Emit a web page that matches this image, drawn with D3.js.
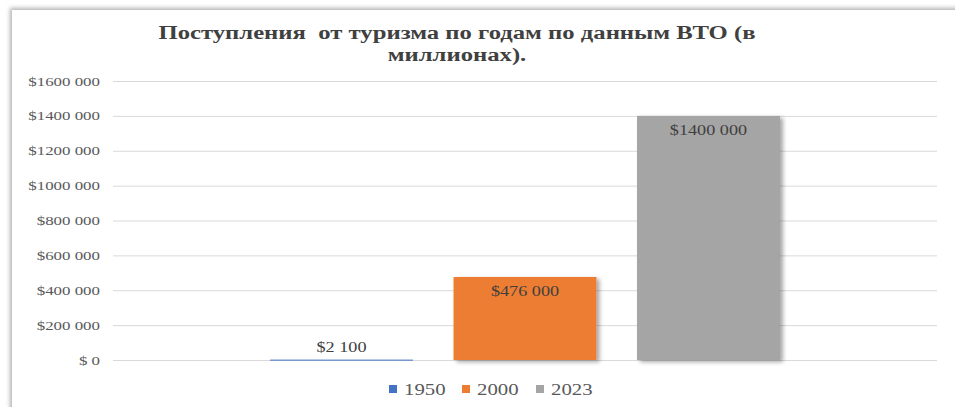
<!DOCTYPE html>
<html>
<head>
<meta charset="utf-8">
<script src="https://cdn.jsdelivr.net/npm/d3@7"></script>
<style>
  body { margin: 0; background: #fff; }
  text { font-family: "Liberation Serif", "Times New Roman", serif; }
</style>
</head>
<body>
<div id="chart"></div>
<script>
// data
var years = ["1950", "2000", "2023"];
var receipts = [2100, 476000, 1400000];
var valueLabels = ["$2 100", "$476 000", "$1400 000"];
var colors = ["#4472C4", "#ED7D31", "#A5A5A5"];
var tickValues = [0, 200000, 400000, 600000, 800000, 1000000, 1200000, 1400000, 1600000];
var tickLabels = ["$ 0", "$200 000", "$400 000", "$600 000", "$800 000", "$1000 000", "$1200 000", "$1400 000", "$1600 000"];
var titleLines = ["Поступления  от туризма по годам по данным ВТО (в", "миллионах)."];

var svgWidth = 955, svgHeight = 407;
var margin = { top: 81, right: 18, bottom: 47, left: 113 };
var width = svgWidth - margin.left - margin.right;
var height = svgHeight - margin.top - margin.bottom;
var sx = 1.3; // text in the picture is stretched wide

var svg = d3.select("#chart").append("svg")
    .attr("width", svgWidth)
    .attr("height", svgHeight);

var defs = svg.append("defs");
defs.append("filter").attr("id", "cardShadow")
    .attr("x", "-5%").attr("y", "-5%").attr("width", "110%").attr("height", "110%")
    .append("feDropShadow")
    .attr("dx", -2).attr("dy", -2).attr("stdDeviation", 2)
    .attr("flood-color", "#000").attr("flood-opacity", 0.3);
defs.append("filter").attr("id", "barShadow")
    .attr("x", "-10%").attr("y", "-10%").attr("width", "130%").attr("height", "130%")
    .append("feDropShadow")
    .attr("dx", 3).attr("dy", 2).attr("stdDeviation", 2)
    .attr("flood-color", "#000").attr("flood-opacity", 0.35);

// card
svg.append("rect")
    .attr("x", 12).attr("y", 10)
    .attr("width", 960).attr("height", 420)
    .attr("fill", "#fff")
    .attr("filter", "url(#cardShadow)");

// fragment of text from above the card
svg.append("text")
    .attr("transform", "translate(915,-4) scale(" + sx + ",1)")
    .attr("text-anchor", "middle")
    .attr("font-size", 18)
    .attr("fill", "#000")
    .text("у");

// title
svg.append("g").selectAll("text")
    .data(titleLines)
    .enter()
    .append("text")
    .attr("transform", (d, i) => `translate(457,${39 + i * 22}) scale(${sx},1)`)
    .attr("text-anchor", "middle")
    .attr("font-size", 19)
    .attr("font-weight", "bold")
    .attr("fill", "#404040")
    .attr("xml:space", "preserve")
    .style("white-space", "pre")
    .text(d => d);

var chartGroup = svg.append("g")
    .attr("transform", `translate(${margin.left}, ${margin.top})`);

var yScale = d3.scaleLinear()
    .domain([0, 1600000])
    .range([height, 0]);

var x0 = d3.scaleBand()
    .domain(["Поступления"])
    .range([0, width])
    .paddingOuter(0.308);

var x1 = d3.scaleBand()
    .domain(years)
    .range([0, x0.bandwidth()])
    .paddingInner(0.221);

// gridlines + labels
var yAxis = d3.axisLeft(yScale)
    .tickValues(tickValues)
    .tickSize(-width)
    .tickFormat("");

var yg = chartGroup.append("g").call(yAxis);
yg.select(".domain").remove();
yg.selectAll(".tick line").attr("stroke", "#d9d9d9").attr("stroke-width", 1);

chartGroup.append("g").selectAll("text")
    .data(tickValues)
    .enter()
    .append("text")
    .attr("transform", d => `translate(-13,${yScale(d) + 4.5}) scale(${sx},1)`)
    .attr("text-anchor", "end")
    .attr("font-size", 13)
    .attr("fill", "#595959")
    .text((d, i) => tickLabels[i]);

// bars
var groupX = x0("Поступления");
chartGroup.selectAll("rect.bar")
    .data(years)
    .enter()
    .append("rect")
    .attr("class", "bar")
    .attr("x", d => groupX + x1(d))
    .attr("y", (d, i) => yScale(receipts[i]))
    .attr("width", x1.bandwidth())
    .attr("height", (d, i) => Math.max(1, height - yScale(receipts[i])))
    .attr("fill", (d, i) => colors[i])
    .attr("filter", (d, i) => receipts[i] > 100000 ? "url(#barShadow)" : null);

// data labels
chartGroup.selectAll("text.val")
    .data(years)
    .enter()
    .append("text")
    .attr("class", "val")
    .attr("transform", function (d, i) {
        var cx = groupX + x1(d) + x1.bandwidth() / 2;
        var top = yScale(receipts[i]);
        var ty = (height - top) > 40 ? top + 19 : top - 8;
        return `translate(${cx},${ty}) scale(${sx},1)`;
    })
    .attr("text-anchor", "middle")
    .attr("font-size", 14)
    .attr("fill", "#404040")
    .attr("xml:space", "preserve")
    .style("white-space", "pre")
    .text((d, i) => valueLabels[i]);

// legend
var legendX = [389, 462, 536];
var legend = svg.append("g").selectAll("g")
    .data(years)
    .enter()
    .append("g")
    .attr("transform", (d, i) => `translate(${legendX[i]}, 385)`);

legend.append("rect")
    .attr("width", 8).attr("height", 8)
    .attr("fill", (d, i) => colors[i]);

legend.append("text")
    .attr("transform", `translate(15,9.5) scale(${sx},1)`)
    .attr("font-size", 16)
    .attr("fill", "#595959")
    .text(d => d);
</script>
</body>
</html>
